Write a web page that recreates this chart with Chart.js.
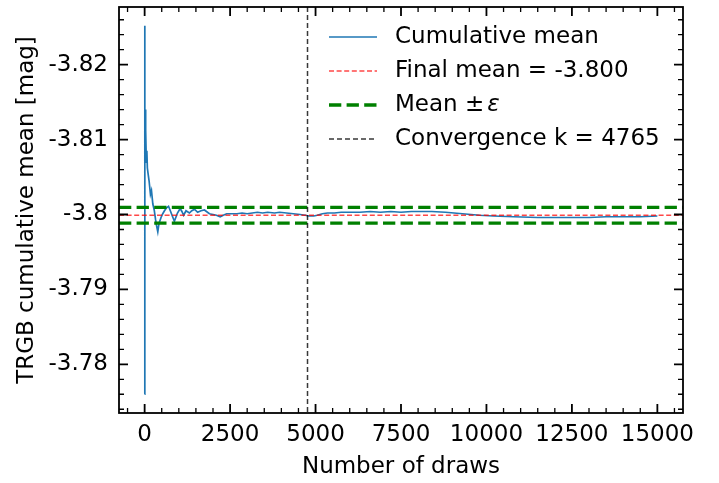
<!DOCTYPE html>
<html>
<head>
<meta charset="utf-8">
<script src="https://cdn.jsdelivr.net/npm/chart.js@4/dist/chart.umd.min.js"></script>
<style>
  html, body { margin: 0; padding: 0; background: #fff; }
  #wrap { width: 719px; height: 483px; }
</style>
</head>
<body>
<div id="wrap"><canvas id="c" width="719" height="483"></canvas></div>
<script>
// ---- data ----
const draws = [1, 2, 4, 6, 10, 16, 25, 35, 50, 65, 80, 100, 130, 170, 200, 240, 280, 320, 350, 385,
  420, 480, 530, 580, 640, 700, 760, 810, 870, 920, 960, 1040, 1090, 1140, 1210, 1310, 1380, 1460,
  1550, 1650, 1750, 1895, 2000, 2100, 2210, 2300, 2400, 2550, 2700, 2850, 3000, 3150, 3300, 3450,
  3600, 3800, 3950, 4150, 4350, 4550, 4700, 4800, 4950, 5050, 5200, 5350, 5550, 5750, 6000, 6300,
  6600, 6900, 7200, 7500, 7800, 8100, 8400, 8800, 9300, 9800, 10200, 10800, 11500, 12000, 12500,
  13000, 13500, 14000, 14500, 15000];
const cumulativeMean = [-3.7760, -3.8252, -3.8030, -3.8163, -3.8080, -3.8140, -3.8095, -3.8112,
  -3.8070, -3.8085, -3.8062, -3.8055, -3.8045, -3.8027, -3.8032, -3.8014, -3.8006, -3.7993, -3.7985,
  -3.7977, -3.7988, -3.7996, -3.8001, -3.8005, -3.8009, -3.8011, -3.8004, -3.7998, -3.7991, -3.7997,
  -3.8002, -3.8008, -3.8004, -3.7999, -3.8005, -3.8002, -3.8005, -3.8007, -3.8003, -3.8005, -3.8006,
  -3.8001, -3.8000, -3.7999, -3.7997, -3.7999, -3.8001, -3.8001, -3.8001, -3.8002, -3.8001, -3.8002,
  -3.8003, -3.8002, -3.8003, -3.8002, -3.8003, -3.8002, -3.8001, -3.8000, -3.7999, -3.7998, -3.7998,
  -3.7999, -3.8001, -3.8002, -3.8002, -3.8003, -3.8003, -3.8003, -3.8004, -3.8003, -3.8004, -3.8003,
  -3.8004, -3.8004, -3.8004, -3.8003, -3.8001, -3.7999, -3.7998, -3.7997, -3.7996, -3.7996, -3.7996,
  -3.7996, -3.7997, -3.7997, -3.7997, -3.7998];
const finalMean = -3.7999;
const epsilon = 0.00105;
const convergenceK = 4765;

const xRange = [-750, 15750];
const yRange = [-3.8277, -3.7735];   // reversed axis (magnitudes)
const xTicks = [0, 2500, 5000, 7500, 10000, 12500, 15000];
const xTickLabels = ['0', '2500', '5000', '7500', '10000', '12500', '15000'];
const yTicks = [-3.82, -3.81, -3.80, -3.79, -3.78];
const yTickLabels = ['-3.82', '-3.81', '-3.8', '-3.79', '-3.78'];
const xMinorStep = 500;
const yMinorStep = 0.002;

const labels = ['Cumulative mean', 'Final mean = -3.800', 'Mean \u00b1 \u03b5', 'Convergence k = 4765'];

// ---- build datasets ----
const FONT = '"DejaVu Sans", "Liberation Sans", sans-serif';
const FS = 23;
const seriesPts = draws.map((d, i) => ({ x: d, y: cumulativeMean[i] }));
const hLine = v => [{ x: xRange[0], y: v }, { x: xRange[1], y: v }];

const ds = [
  { label: labels[0], data: seriesPts, borderColor: '#1f77b4', borderWidth: 1.7, borderDash: [], order: 4 },
  { label: labels[1], data: hLine(finalMean), borderColor: 'rgba(255,0,0,0.72)', borderWidth: 1.5, borderDash: [5, 2.6], order: 3 },
  { label: labels[2], data: hLine(finalMean - epsilon), borderColor: '#008000', borderWidth: 3.3, borderDash: [12.3, 5.3], order: 2 },
  { label: null, data: hLine(finalMean + epsilon), borderColor: '#008000', borderWidth: 3.3, borderDash: [12.3, 5.3], order: 2 },
  { label: labels[3], data: [{ x: convergenceK, y: yRange[0] }, { x: convergenceK, y: yRange[1] }],
    borderColor: 'rgba(0,0,0,0.78)', borderWidth: 1.5, borderDash: [5, 3], order: 1 }
];
ds.forEach(d => { d.pointRadius = 0; d.fill = false; d.tension = 0; d.borderCapStyle = 'butt'; });

// ---- frame + inward ticks ----
const framePlugin = {
  id: 'frame',
  afterDatasetsDraw(chart) {
    const { ctx, chartArea: a, scales: { x, y } } = chart;
    ctx.save();
    ctx.strokeStyle = '#000';
    ctx.lineCap = 'butt';
    const majLen = 9, minLen = 5;
    function xTick(v, len, w) {
      const px = x.getPixelForValue(v);
      if (px < a.left - 0.5 || px > a.right + 0.5) return;
      ctx.lineWidth = w;
      ctx.beginPath();
      ctx.moveTo(px, a.bottom); ctx.lineTo(px, a.bottom - len);
      ctx.moveTo(px, a.top); ctx.lineTo(px, a.top + len);
      ctx.stroke();
    }
    function yTick(v, len, w) {
      const py = y.getPixelForValue(v);
      if (py < a.top - 0.5 || py > a.bottom + 0.5) return;
      ctx.lineWidth = w;
      ctx.beginPath();
      ctx.moveTo(a.left, py); ctx.lineTo(a.left + len, py);
      ctx.moveTo(a.right, py); ctx.lineTo(a.right - len, py);
      ctx.stroke();
    }
    for (let v = Math.ceil(xRange[0] / xMinorStep) * xMinorStep; v <= xRange[1]; v += xMinorStep) {
      if (!xTicks.includes(v)) xTick(v, minLen, 1.3);
    }
    xTicks.forEach(v => xTick(v, majLen, 1.8));
    const nMin = Math.ceil(yRange[0] / yMinorStep - 1e-6), nMax = Math.floor(yRange[1] / yMinorStep + 1e-6);
    for (let n = nMin; n <= nMax; n++) {
      const v = n * yMinorStep;
      if (!yTicks.some(t => Math.abs(t - v) < 1e-7)) yTick(v, minLen, 1.3);
    }
    yTicks.forEach(v => yTick(v, majLen, 1.8));
    ctx.lineWidth = 1.8;
    ctx.strokeRect(a.left, a.top, a.right - a.left, a.bottom - a.top);
    ctx.restore();
  }
};

// ---- legend inside plot ----
const legendPlugin = {
  id: 'innerLegend',
  afterDraw(chart) {
    const { ctx, chartArea: a } = chart;
    const items = chart.data.datasets.filter(d => d.label);
    const x0 = a.right - 354, x1 = a.right - 306, tx = a.right - 288;
    const y0 = a.top + 30, dy = 34;
    ctx.save();
    items.forEach((d, i) => {
      const yy = y0 + i * dy;
      ctx.strokeStyle = d.borderColor;
      ctx.lineWidth = d.borderWidth;
      ctx.setLineDash(d.borderDash || []);
      ctx.beginPath(); ctx.moveTo(x0, yy); ctx.lineTo(x1, yy); ctx.stroke();
      ctx.setLineDash([]);
      ctx.fillStyle = '#000';
      ctx.textBaseline = 'middle';
      ctx.textAlign = 'left';
      const lab = d.label;
      if (lab.endsWith('\u03b5')) {
        const main = lab.slice(0, -2);
        ctx.font = FS + 'px ' + FONT;
        ctx.fillText(main, tx, yy);
        const w = ctx.measureText(main).width;
        ctx.font = 'italic ' + FS + 'px ' + FONT;
        ctx.fillText('\u03b5', tx + w + 3, yy);
      } else {
        ctx.font = FS + 'px ' + FONT;
        ctx.fillText(lab, tx, yy);
      }
    });
    ctx.restore();
  }
};

new Chart(document.getElementById('c'), {
  type: 'line',
  data: { datasets: ds },
  plugins: [framePlugin, legendPlugin],
  options: {
    responsive: false,
    animation: false,
    devicePixelRatio: 1,
    layout: { padding: { left: 0, right: 36, top: 7, bottom: 0 } },
    plugins: { legend: { display: false }, tooltip: { enabled: false } },
    scales: {
      x: {
        type: 'linear', min: xRange[0], max: xRange[1],
        grid: { display: false, drawTicks: false }, border: { display: false },
        afterBuildTicks: s => { s.ticks = xTicks.map(v => ({ value: v })); },
        afterFit: s => { s.height = 70; s.paddingLeft = 0; s.paddingRight = 0; },
        ticks: { autoSkip: false, maxRotation: 0, padding: 8, color: '#000',
          font: { family: FONT, size: FS },
          callback: (v, i) => xTickLabels[i] },
        title: { display: true, text: 'Number of draws', color: '#000',
          font: { family: FONT, size: FS }, padding: { top: 0, bottom: 2 } }
      },
      y: {
        type: 'linear', min: yRange[0], max: yRange[1], reverse: true,
        grid: { display: false, drawTicks: false }, border: { display: false },
        afterBuildTicks: s => { s.ticks = yTicks.map(v => ({ value: v })); },
        afterFit: s => { s.width = 119; s.paddingTop = 0; s.paddingBottom = 0; },
        ticks: { autoSkip: false, padding: 11, color: '#000',
          font: { family: FONT, size: FS },
          callback: (v, i) => yTickLabels[i] },
        title: { display: true, text: 'TRGB cumulative mean [mag]', color: '#000',
          font: { family: FONT, size: FS }, padding: { top: 13, bottom: 0 } }
      }
    }
  }
});
</script>
</body>
</html>
